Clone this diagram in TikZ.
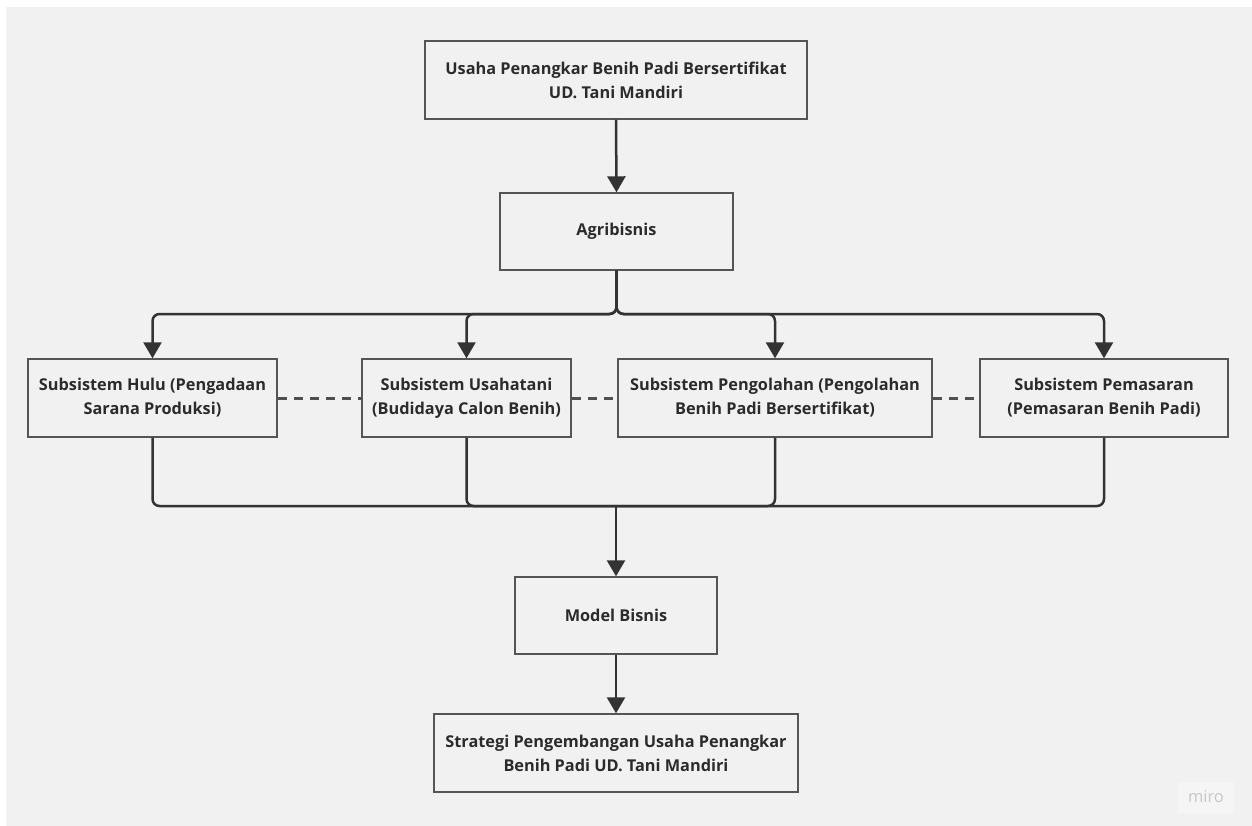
\documentclass[tikz,border=0pt]{standalone}
\usepackage{fontspec}
\setmainfont{Open Sans}
\usetikzlibrary{arrows.meta}
\definecolor{bggray}{HTML}{F1F1F1}
\definecolor{linec}{HTML}{333333}
\definecolor{boxc}{HTML}{555555}
\definecolor{dashc}{HTML}{505050}
\definecolor{textc}{HTML}{2B2B2B}
\definecolor{miroc}{HTML}{C8C8C8}
\tikzset{
  boxnode/.style={draw=boxc, line width=1.4bp, fill=bggray, minimum height=78bp, align=center, inner sep=0pt,
    text=textc, font=\bfseries\fontsize{16.3bp}{24bp}\selectfont},
  arr/.style={draw=linec, line width=2.5bp, rounded corners=7bp, -{Triangle[length=16bp,width=18bp]}},
  plain/.style={draw=linec, line width=2.5bp, rounded corners=7bp},
  dashline/.style={draw=dashc, line width=3bp, dash pattern=on 9bp off 7bp}
}
\begin{document}
\begin{tikzpicture}[x=1bp,y=-1bp]
\useasboundingbox (0,0) rectangle (1252,826);
\fill[white] (0,0) rectangle (1252,826);
\fill[bggray] (6,7) rectangle (1252,826);

\node[boxnode, minimum width=382bp] (top) at (616,80) {Usaha Penangkar Benih Padi Bersertifikat\\UD. Tani Mandiri};
\node[boxnode, minimum width=233bp, minimum height=77bp] (agri) at (616.5,231.5) {Agribisnis};
\node[boxnode, minimum width=249bp] (hulu) at (152.5,398) {Subsistem Hulu (Pengadaan\\Sarana Produksi)};
\node[boxnode, minimum width=209bp] (usaha) at (466.5,398) {Subsistem Usahatani\\(Budidaya Calon Benih)};
\node[boxnode, minimum width=314bp] (olah) at (775,398) {Subsistem Pengolahan (Pengolahan\\Benih Padi Bersertifikat)};
\node[boxnode, minimum width=248bp] (pasar) at (1104,398) {Subsistem Pemasaran\\(Pemasaran Benih Padi)};
\node[boxnode, minimum width=202bp, minimum height=77bp] (model) at (616,615.5) {Model Bisnis};
\node[boxnode, minimum width=364bp] (strat) at (616,753) {Strategi Pengembangan Usaha Penangkar\\Benih Padi UD. Tani Mandiri};

\coordinate (split) at (616.5,314);
\coordinate (merge) at (616,506);

\draw[arr] (top.south) -- (agri.north);
\draw[arr] (agri.south) -- (split) -| (hulu.north);
\draw[arr] (agri.south) -- (split) -| (usaha.north);
\draw[arr] (agri.south) -- (split) -| (olah.north);
\draw[arr] (agri.south) -- (split) -| (pasar.north);

\draw[plain] (hulu.south) |- (merge);
\draw[plain] (usaha.south) |- (merge);
\draw[plain] (olah.south) |- (merge);
\draw[plain] (pasar.south) |- (merge);
\draw[arr] (merge) -- (model.north);
\draw[arr] (model.south) -- (strat.north);

\draw[dashline] (hulu.east) -- (usaha.west);
\draw[dashline] (usaha.east) -- (olah.west);
\draw[dashline] (olah.east) -- (pasar.west);

\fill[white, opacity=0.35] (1178,782) rectangle (1234,813);
\node[text=miroc, font=\fontsize{16.5bp}{18bp}\selectfont] (miro) at (1206,797) {miro};
\end{tikzpicture}
\end{document}
